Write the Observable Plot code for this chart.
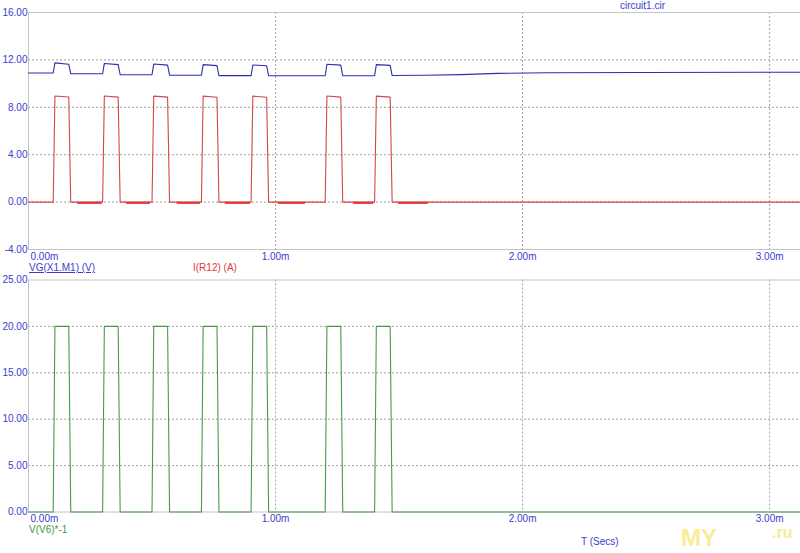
<!DOCTYPE html>
<html>
<head>
<meta charset="utf-8">
<script src="https://cdn.jsdelivr.net/npm/d3@7"></script>
<script src="https://cdn.jsdelivr.net/npm/@observablehq/plot@0.6"></script>
<style>
  html, body { margin: 0; padding: 0; background: #fff; }
  #wrap { position: relative; width: 800px; height: 553px; overflow: hidden; font-family: "Liberation Sans", Arial, sans-serif; }
  #wrap svg { position: absolute; left: 0; }
  .lbl { position: absolute; font-size: 10px; line-height: 12px; white-space: nowrap; }
</style>
</head>
<body>
<div id="wrap">
  <span class="lbl" style="left:620px;top:0px;color:#3c3cd0">circuit1.cir</span>
  <span class="lbl" style="left:29px;top:262px;color:#3c3cd0;text-decoration:underline">VG(X1.M1) (V)</span>
  <span class="lbl" style="left:193px;top:262px;color:#e03a3a">I(R12) (A)</span>
  <span class="lbl" style="left:29px;top:524px;color:#3c9a3c">V(V6)*-1</span>
  <span class="lbl" style="left:581px;top:536px;color:#3c3cd0">T (Secs)</span>
  <span class="lbl" style="left:681px;top:525px;color:#f6e46a;font-size:24px;line-height:26px;font-weight:bold;opacity:0.7">MY</span>
  <span class="lbl" style="left:772px;top:524px;color:#f6e46a;font-size:16px;line-height:18px;font-weight:bold;opacity:0.7">.ru</span>
</div>
<script>
// ---- data (time in ms) ----
const xDomain = [0, 3.125];
const xTicks = [0, 1, 2, 3];
const topYTicks = [16, 12, 8, 4, 0, -4];
const botYTicks = [25, 20, 15, 10, 5, 0];
const topGrid = [12, 8, 4, 0];
const botGrid = [20, 15, 10, 5];

// pulse edges (ms)
const riseStart = [0.100, 0.300, 0.500, 0.700, 0.901, 1.201, 1.401];
const riseEnd   = [0.107, 0.307, 0.507, 0.707, 0.908, 1.208, 1.408];
const fallStart = [0.163, 0.363, 0.563, 0.763, 0.964, 1.264, 1.464];
const fallEnd   = [0.171, 0.371, 0.571, 0.771, 0.972, 1.272, 1.472];

// I(R12) (A)
const iTopStart = [8.95, 8.95, 8.94, 8.94, 8.94, 8.95, 8.94];
const iTopEnd   = [8.87, 8.86, 8.86, 8.85, 8.85, 8.86, 8.86];
const iTailStart = [0.200, 0.397, 0.602, 0.797, 1.012, 1.316, 1.498];
const iTailEnd   = [0.298, 0.494, 0.696, 0.899, 1.121, 1.397, 1.619];

// VG(X1.M1) (V)
const vgLowBefore = [10.90, 10.83, 10.75, 10.71, 10.67, 10.66, 10.66];
const vgHighStart = [11.75, 11.70, 11.65, 11.60, 11.57, 11.63, 11.60];
const vgHighEnd   = [11.63, 11.60, 11.56, 11.52, 11.50, 11.56, 11.54];
const vgTailT = [1.600, 1.750, 1.900, 2.100, 2.500, 3.125];
const vgTailV = [10.70, 10.76, 10.86, 10.92, 10.94, 10.96];

// V(V6)*-1
const v6High = 20;
const v6Low = 0;

// ---- build waveform tables ----
const red = [{t: 0, v: 0}];
const blue = [{t: 0, v: vgLowBefore[0]}];
const green = [{t: 0, v: v6Low}];
riseStart.forEach((s, i) => {
  red.push({t: s, v: 0}, {t: riseEnd[i], v: iTopStart[i]}, {t: fallStart[i], v: iTopEnd[i]}, {t: fallEnd[i], v: 0});
  green.push({t: s, v: v6Low}, {t: riseEnd[i], v: v6High}, {t: fallStart[i], v: v6High}, {t: fallEnd[i], v: v6Low});
  const after = i + 1 < vgLowBefore.length ? vgLowBefore[i + 1] : vgLowBefore[i] + 0.02;
  blue.push({t: s, v: vgLowBefore[i]}, {t: riseEnd[i], v: vgHighStart[i]}, {t: fallStart[i], v: vgHighEnd[i]}, {t: fallEnd[i], v: after});
});
red.push({t: xDomain[1], v: 0});
green.push({t: xDomain[1], v: v6Low});
vgTailT.forEach((t, i) => blue.push({t, v: vgTailV[i]}));
const tails = iTailStart.map((s, i) => ({x1: s, x2: iTailEnd[i]}));

const BLUE_TXT = "#3c3cd0";
const GRID = "#a0a0a0";
const BORDER = "#c4c4c4";
const fmtX = d => d.toFixed(2) + "m";

function axesMarks(yDom, yTicks, grid) {
  return [
    Plot.ruleY(grid, {stroke: GRID, strokeDasharray: "2,2"}),
    Plot.ruleX(xTicks.slice(1), {stroke: GRID, strokeDasharray: "2,2"}),
    Plot.ruleY([yDom[1]], {stroke: BORDER}),
    Plot.ruleY([yDom[0]], {stroke: BORDER}),
    Plot.ruleX([xDomain[0]], {stroke: BORDER}),
    Plot.axisY(yTicks, {tickSize: 0, tickPadding: 1, label: null, tickFormat: d => d.toFixed(2), fill: BLUE_TXT, fontSize: 10}),
    Plot.text(xTicks.slice(0, 1), {x: d => d, frameAnchor: "bottom", text: fmtX, dy: 7, dx: 2, textAnchor: "start", lineAnchor: "middle", fill: BLUE_TXT, fontSize: 10}),
    Plot.text(xTicks.slice(1), {x: d => d, frameAnchor: "bottom", text: fmtX, dy: 7, textAnchor: "middle", lineAnchor: "middle", fill: BLUE_TXT, fontSize: 10})
  ];
}

const common = {
  width: 800,
  marginLeft: 28,
  marginRight: 0,
  style: {background: "transparent", overflow: "visible", fontFamily: "Liberation Sans, Arial, sans-serif"},
  x: {domain: xDomain, axis: null},
};

const topChart = Plot.plot({
  ...common,
  height: 262,
  marginTop: 12,
  marginBottom: 13,
  y: {domain: [-4, 16], axis: null},
  marks: [
    ...axesMarks([-4, 16], topYTicks, topGrid),
    Plot.ruleY(tails, {x1: "x1", x2: "x2", y: -0.06, stroke: "#e82020", strokeWidth: 2}),
    Plot.line(red, {x: "t", y: "v", stroke: "#d24646", strokeWidth: 1.1}),
    Plot.line(blue, {x: "t", y: "v", stroke: "#2e2eac", strokeWidth: 1.1})
  ]
});
topChart.style.top = "0px";

const botChart = Plot.plot({
  ...common,
  height: 291,
  marginTop: 17.5,
  marginBottom: 41.5,
  y: {domain: [0, 25], axis: null},
  marks: [
    ...axesMarks([0, 25], botYTicks, botGrid),
    Plot.line(green, {x: "t", y: "v", stroke: "#4a9a4a", strokeWidth: 1.1})
  ]
});
botChart.style.top = "262px";

const wrap = document.getElementById("wrap");
wrap.insertBefore(botChart, wrap.firstChild);
wrap.insertBefore(topChart, wrap.firstChild);
</script>
</body>
</html>
